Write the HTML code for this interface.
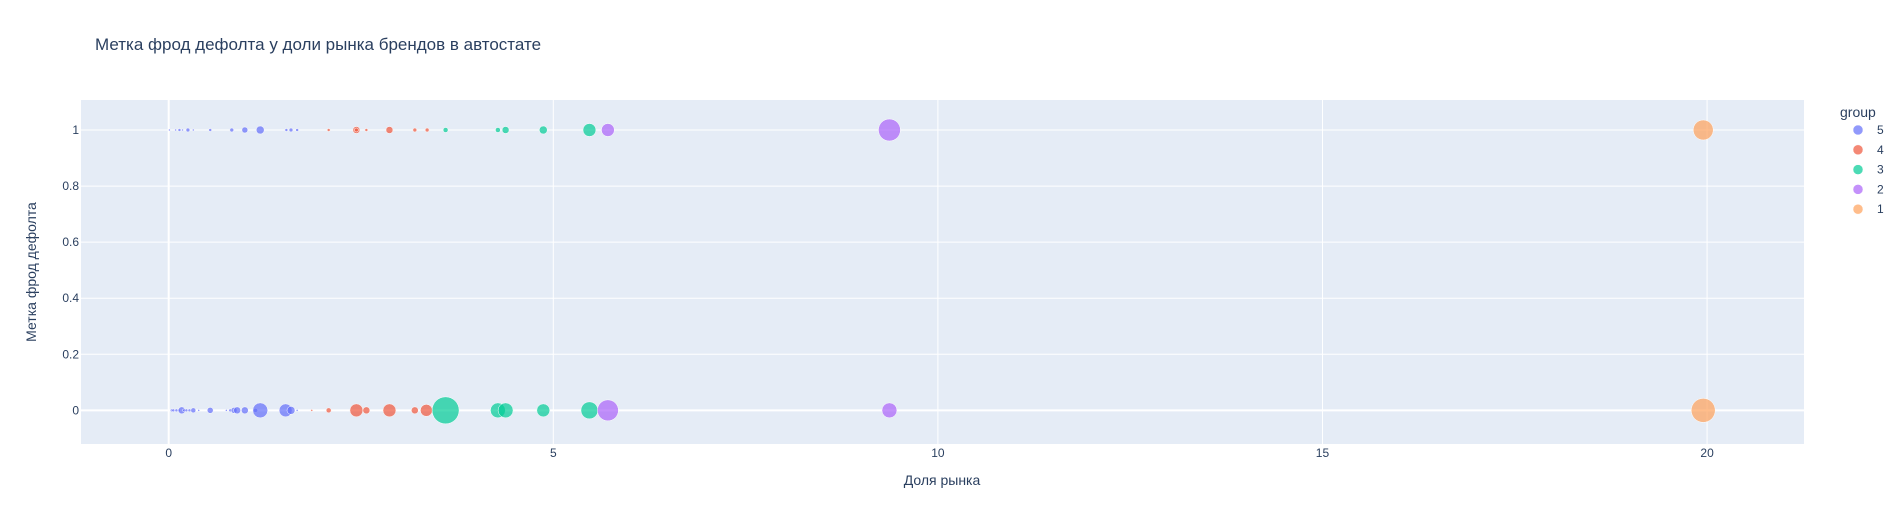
<!DOCTYPE html>
<html><head><meta charset="utf-8"><style>
body{margin:0;background:#fff}
svg{display:block;font-family:"Liberation Sans","Noto Sans CJK SC",sans-serif}
</style></head><body>
<svg id="chart" width="1904" height="525">
<text x="95" y="50" font-size="17" fill="#2a3f5f">Метка фрод дефолта у доли рынка брендов в автостате</text>
<rect x="81" y="100" width="1723" height="344" fill="#e5ecf6"/>
<g id="grid"></g>
<g id="points"></g>
<g id="ticks"></g>
<text x="942" y="485" font-size="14" fill="#2a3f5f" text-anchor="middle">Доля рынка</text>
<text transform="translate(36,272) rotate(-90)" font-size="14" fill="#2a3f5f" text-anchor="middle">Метка фрод дефолта</text>
<text x="1840" y="117" font-size="14" fill="#2a3f5f">group</text>
<g id="legend"></g>
</svg>
<script>
const groups=["5","4","3","2","1"];
const colors=["#636efa","#EF553B","#00cc96","#ab63fa","#FFA15A"];
const xTicks=[0,5,10,15,20];
const yTicks=[0,0.2,0.4,0.6,0.8,1];
const yTickLabels=["0","0.2","0.4","0.6","0.8","1"];
// group 5
const g5x=[0.01,0.09,0.14,0.18,0.25,0.32,0.54,0.82,0.99,1.19,1.53,1.59,1.67,
 0.04,0.06,0.10,0.13,0.17,0.2,0.23,0.27,0.32,0.39,0.54,0.75,0.80,0.85,0.89,0.99,1.13,1.19,1.52,1.59,1.67];
const g5y=[1,1,1,1,1,1,1,1,1,1,1,1,1, 0,0,0,0,0,0,0,0,0,0,0,0,0,0,0,0,0,0,0,0,0];
const g5s=[2,2,3,2,4,2,3,4,6,8,3,4,3, 3,3,3,3,7,3,3,3,5,2,6,2,3,6,7,7,4,15,13,8,2];
// group 4
const g4x=[2.08,2.44,2.44,2.57,2.87,3.2,3.36, 1.86,2.08,2.44,2.57,2.87,3.2,3.35];
const g4y=[1,1,1,1,1,1,1, 0,0,0,0,0,0,0];
const g4s=[3,7,4,3,7,4,4, 2,5,13,7,13,7,12];
// group 3
const g3x=[3.6,4.28,4.38,4.87,5.47, 3.6,4.28,4.38,4.87,5.47];
const g3y=[1,1,1,1,1, 0,0,0,0,0];
const g3s=[5,5,7,8,13, 27,15,15,13,17];
// group 2
const g2x=[5.71,9.37, 5.71,9.37];
const g2y=[1,1, 0,0];
const g2s=[13,22, 21,15];
// group 1
const g1x=[19.95, 19.95];
const g1y=[1, 0];
const g1s=[20, 24];

const X0=81,X1=1804,Y0=444,Y1=100,xmin=-1.14,xmax=21.26,ymin=-0.12,ymax=1.107;
const sx=v=>X0+(v-xmin)/(xmax-xmin)*(X1-X0);
const sy=v=>Y0-(v-ymin)/(ymax-ymin)*(Y0-Y1);
const NS="http://www.w3.org/2000/svg";
function mk(t,a,p){const e=document.createElementNS(NS,t);for(const k in a)e.setAttribute(k,a[k]);p.appendChild(e);return e;}
const grid=document.getElementById('grid'),ticks=document.getElementById('ticks'),pts=document.getElementById('points'),leg=document.getElementById('legend');
xTicks.forEach((t,i)=>{
 const l=mk('line',{x1:sx(t),x2:sx(t),y1:Y1,y2:Y0,stroke:'#fff','stroke-width':t===0?2:1},grid);
 
 
 const tx=mk('text',{x:sx(t),y:457,'font-size':12,fill:'#2a3f5f','text-anchor':'middle'},ticks);
 tx.textContent=String(t);
 
 
});
yTicks.forEach((t,i)=>{
 const l=mk('line',{x1:X0,x2:X1,y1:sy(t),y2:sy(t),stroke:'#fff','stroke-width':t===0?2:1},grid);
 
 
 const tx=mk('text',{x:79,y:sy(t)+4,'font-size':12,fill:'#2a3f5f','text-anchor':'end'},ticks);
 tx.textContent=yTickLabels[i];
 
 
});
const series=[[g5x,g5y,g5s],[g4x,g4y,g4s],[g3x,g3y,g3s],[g2x,g2y,g2s],[g1x,g1y,g1s]];
series.forEach((s,gi)=>{
 s[0].forEach((x,i)=>{
  const c=mk('circle',{cx:sx(x),cy:sy(s[1][i]),r:s[2][i]/2,fill:colors[gi],'fill-opacity':0.7,stroke:'#fff','stroke-width':0.5},pts);
  
  
 });
 const ly=130+gi*19.8;
 const m=mk('circle',{cx:1858,cy:ly,r:5,fill:colors[gi],'fill-opacity':0.7,stroke:'#fff','stroke-width':0.5},leg);
 
 
 const t=mk('text',{x:1877,y:ly+4,'font-size':12,fill:'#2a3f5f'},leg);
 t.textContent=groups[gi];
 
 
});
</script>
</body></html>
